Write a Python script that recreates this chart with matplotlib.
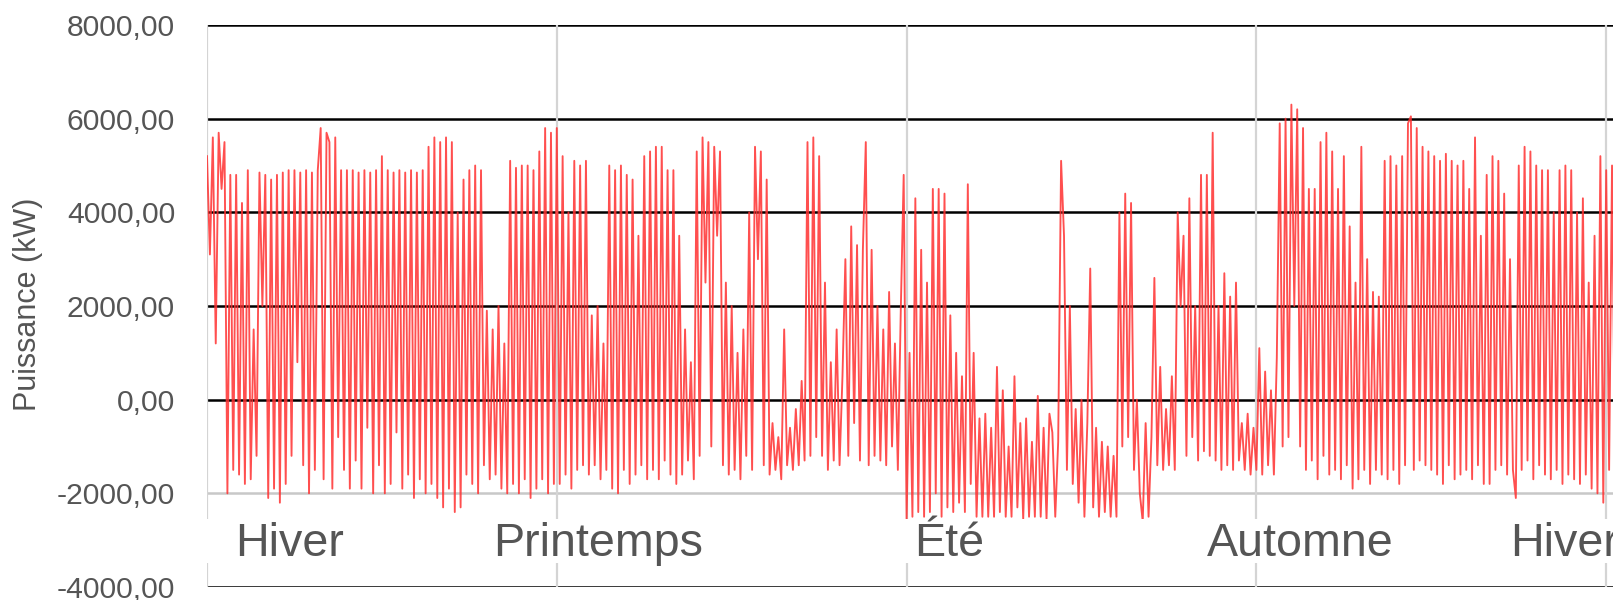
import numpy as np
import matplotlib
matplotlib.use("Agg")
import matplotlib.pyplot as plt
from matplotlib.patches import Rectangle

# ---- data (kW), one value every 91.25/120 day ----
hiver_1 = [
    5200, 3100, 5600, 1200, 5700, 4500, 5500, -2000, 4800, -1500,
    4800, -1600, 4200, -1800, 4900, -1700, 1500, -1200, 4850, 2000,
    4800, -2100, 4700, -1900, 4800, -2200, 4850, -1800, 4900, -1200,
    4900, 800, 4850, -1400, 4900, -2000, 4850, -1500, 4900, 5800,
    -1700, 5700, 5500, -1900, 5600, -800, 4900, -1500, 4900, -1900,
    4900, -1300, 4850, -1900, 4900, -600, 4850, -2000, 4900, -1400,
    5200, -2000, 4900, -1800, 4850, -700, 4900, -1900, 4850, -1600,
    4900, -2100, 4850, -1700, 4900, -2000, 5400, -1800, 5600, -2100,
    5500, -2300, 5600, -1900, 5500, -2400, 4000, -2300, 4700, -1600,
    4900, -1800, 5000, -2000, 4900, -1400, 1900, -1700, 1500, -1600,
    2000, -1900, 1200, -2000, 5100, -1800, 4950, -2000, 5000, -1700,
    5000, -2100, 4900, -1900, 5300, -1700, 5800, -2000, 5700, -1800,
]
printemps = [
    5800, -1800, 5200, -1600, 4000, -1900, 5100, -1500, 5000, -1400,
    5100, -1600, 1800, -1400, 2000, -1700, 1200, -1500, 5000, -1900,
    4900, -2000, 5000, -1500, 4800, -1800, 4700, -1600, 3500, -1400,
    5200, -1700, 5300, -1500, 5400, -1700, 5400, -1300, 4900, -1600,
    4900, -1800, 3500, -1600, 1500, -1300, 800, -1700, 5300, -1200,
    5600, 2500, 5500, -1000, 5400, 3500, 5300, -1400, 2500, -1600,
    2000, -1500, 1000, -1700, 1500, -1200, 4000, -1500, 5400, 3000,
    5300, -1400, 4700, -1600, -500, -1500, -800, -1700, 1500, -1400,
    -600, -1500, -200, -1400, 400, -1300, 5500, -1200, 5600, -800,
    5200, -1200, 2500, -1500, 800, -1300, 1500, -1400, 500, 3000,
    -1200, 3700, -500, 3300, -1300, 3200, 5500, -1400, 3200, -1200,
    2000, -1300, 1500, -1400, 2300, -1000, 1200, -1500, 1900, 4800,
]
ete = [
    -2600, 1000, -2500, 4300, -2400, 3200, -2500, 2500, -2400, 4500,
    -2000, 4500, -2500, 4400, -2300, 1800, -2400, 1000, -2200, 500,
    -2400, 4600, -1800, 1000, -2500, -400, -2500, -300, -2500, -600,
    -2500, 700, -2400, 200, -2500, -1000, -2500, 500, -2300, -500,
    -2550, -400, -2500, -900, -2500, 80, -2500, -600, -2550, -300,
    -700, -2500, -900, 5100, 3500, -1500, 2000, -1800, -200, -2200,
    0, -2500, -500, 2800, -2300, -600, -2500, -900, -2400, -1000,
    -2500, -1200, -2500, 4000, -1000, 4400, -800, 4200, -1500, 0,
    -2000, -2600, -500, -2500, -800, 2600, -1400, 700, -1500, -200,
    -1400, 500, -1500, 4000, 2000, 3500, -1200, 4300, -800, 2000,
    -1300, 4800, -1100, 4800, -1200, 5700, -1300, 2000, -1500, 2700,
    -1400, 2200, -1500, 2500, -1300, -500, -1500, -300, -1600, -600,
]
automne = [
    -1500, 1100, -1600, 600, -1400, 200, -1600, 900, 5900, -1000,
    6000, -800, 6300, 2000, 6200, -1000, 5800, -1500, 4500, -1300,
    4500, -1700, 5500, -1200, 5700, -1600, 5300, -1500, 4500, -1700,
    5200, -1400, 3700, -1900, 2500, -1700, 5400, -1500, 3000, -1800,
    2300, -1500, 2200, -1600, 5100, -1700, 5200, -1500, 5000, -1800,
    5200, -1400, 5900, 6050, -1500, 5800, -1300, 5400, -1400, 5300,
    -1500, 5200, -1600, 5100, -1800, 5250, -1400, 5100, -1700, 5000,
    -1600, 5100, -1500, 4500, -1700, 5600, -1400, 3500, -1800, 4800,
    -1800, 5200, -1500, 5100, -1400, 4400, -1600, 3000, -1500, -2100,
    5000, -1500, 5400, -1300, 5300, -1700, 5000, -1400, 4900, -1600,
    4900, -1700, 4000, -1500, 4900, -1800, 5000, -1600, 4900, -1700,
    4000, -1800, 4300, -1600, 2500, -1900, 3500, -2000, 5200, -2200,
]
hiver_2 = [4900, -1500, 5000, -1400]

saisons = ["Hiver", "Printemps", "Été", "Automne", "Hiver"]
saison_debut_jours = [0, 91.25, 182.5, 273.75, 365]
y_ticks = [-4000, -2000, 0, 2000, 4000, 6000, 8000]
y_tick_labels = ["-4000,00", "-2000,00", "0,00", "2000,00", "4000,00", "6000,00", "8000,00"]

# ---- build series ----
puissance = np.array(hiver_1 + printemps + ete + automne + hiver_2, dtype=float)
pas = 91.25 / len(hiver_1)
jours = np.arange(len(puissance)) * pas

W, H = 1613, 600
fig = plt.figure(figsize=(W / 100, H / 100), dpi=100)
ax = fig.add_axes([207 / W, 1 - 587 / H, 1 - 207 / W + 0.002, (587 - 25) / H])

x_max = (W - 207) / (349 / 91.25)
ax.set_xlim(0, x_max)
ax.set_ylim(-4000, 8000)

# gridlines
for v in y_ticks:
    col = "#c8c8c8" if v == -2000 else "black"
    ax.axhline(v, color=col, lw=1.8, zorder=1)
for d in saison_debut_jours:
    ax.axvline(d, color="#d4d4d4", lw=1.6, zorder=1)

ax.plot(jours, puissance, color="#ff3030", lw=1.35, alpha=0.85, zorder=2)

# white band for season labels
ax.add_patch(Rectangle((-5, -3490), x_max + 10, 3490 - 2553, facecolor="white",
                       edgecolor="none", zorder=3, clip_on=False))

label_left_px = [235, 492, 913, 1205, 1507]
for name, px in zip(saisons, label_left_px):
    ax.text((px - 207) / (349 / 91.25), -3340, name, fontsize=33.6,
            family="Liberation Sans", color="#555555", ha="left",
            va="baseline", zorder=4)

for s in ax.spines.values():
    s.set_visible(False)
ax.set_xticks([])
ax.set_yticks(y_ticks)
ax.set_yticklabels(y_tick_labels, fontsize=21.6, family="Liberation Sans",
                   color="#555555")
ax.tick_params(axis="y", length=0, pad=23)

fig.text(28 / W, 1 - 304 / H, "Puissance (kW)", rotation=90, fontsize=22,
         family="Liberation Sans", color="#555555", ha="center", va="center")

fig.savefig("out.png", dpi=100, facecolor="white")
